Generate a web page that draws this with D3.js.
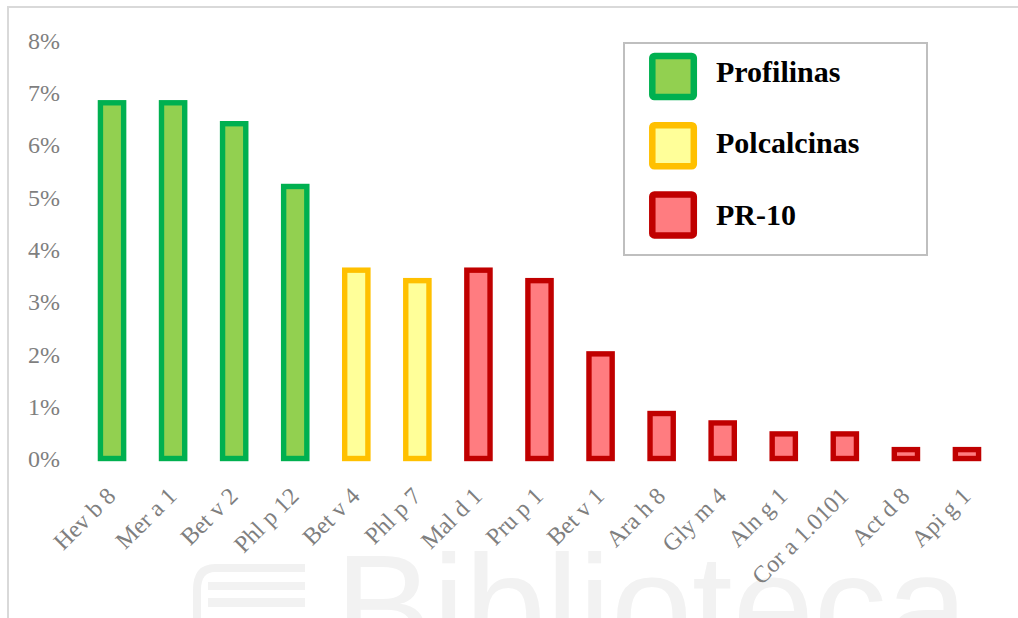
<!DOCTYPE html>
<html>
<head>
<meta charset="utf-8">
<script src="https://cdn.jsdelivr.net/npm/d3@7/dist/d3.min.js"></script>
<style>
  html, body { margin: 0; padding: 0; background: #fff; }
  svg { display: block; }
</style>
</head>
<body>
<svg id="chart" width="1018" height="618"></svg>
<script>
// Allergen components and their share of sensitised patients
const allergens = ["Hev b 8", "Mer a 1", "Bet v 2", "Phl p 12", "Bet v 4", "Phl p 7", "Mal d 1",
  "Pru p 1", "Bet v 1", "Ara h 8", "Gly m 4", "Aln g 1", "Cor a 1.0101", "Act d 8", "Api g 1"];
const shares = [0.068, 0.068, 0.064, 0.052, 0.036, 0.034, 0.036, 0.034, 0.020, 0.0086, 0.0068, 0.0047, 0.0047, 0.0017, 0.0017];
const families = ["Profilinas", "Profilinas", "Profilinas", "Profilinas", "Polcalcinas", "Polcalcinas",
  "PR-10", "PR-10", "PR-10", "PR-10", "PR-10", "PR-10", "PR-10", "PR-10", "PR-10"];

// Protein families shown in the legend
const familyNames = ["Profilinas", "Polcalcinas", "PR-10"];
const familyFill = ["#92D050", "#FFFF99", "#FF7C80"];
const familyStroke = ["#00B050", "#FFC000", "#C00000"];

const yTicks = [0, 0.01, 0.02, 0.03, 0.04, 0.05, 0.06, 0.07, 0.08];

const svg = d3.select("#chart");
const serif = "'Liberation Serif', 'Times New Roman', serif";

// Faint library watermark behind the chart
const wm = svg.append("g").attr("fill", "#f2f2f2");
wm.append("path")
  .attr("d", "M305,568 L215,568 Q197,568 197,590 L197,640")
  .attr("fill", "none").attr("stroke", "#f1f1f1").attr("stroke-width", 8);
wm.append("rect").attr("x", 208).attr("y", 582).attr("width", 97).attr("height", 8);
wm.append("rect").attr("x", 208).attr("y", 598).attr("width", 97).attr("height", 9);
wm.append("text")
  .attr("x", 335).attr("y", 657)
  .attr("font-family", "'Liberation Sans', Arial, sans-serif")
  .attr("font-size", 146)
  .text("Biblioteca");

// Chart frame
svg.append("path")
  .attr("d", "M8,618 L8,7 L1018,7")
  .attr("fill", "none").attr("stroke", "#d9d9d9").attr("stroke-width", 2);

const x = d3.scaleBand()
  .domain(allergens)
  .range([81.5, 997.5])
  .paddingInner(0.62)
  .paddingOuter(0.31);

const y = d3.scaleLinear().domain([0, 0.08]).range([458.5, 40]);

const colorFill = d3.scaleOrdinal().domain(familyNames).range(familyFill);
const colorStroke = d3.scaleOrdinal().domain(familyNames).range(familyStroke);

// Y axis labels (no axis line or gridlines)
const yAxis = d3.axisLeft(y).tickValues(yTicks).tickFormat(d3.format(".0%")).tickSize(0).tickPadding(0);
const yg = svg.append("g").attr("transform", "translate(60,0)").call(yAxis);
yg.select(".domain").remove();
yg.selectAll("text")
  .attr("font-family", serif).attr("font-size", 24).attr("fill", "#7f7f7f")
  .attr("dy", "0.34em");

// Bars
const data = allergens.map((a, i) => ({ name: a, value: shares[i], family: families[i] }));
svg.append("g").selectAll("rect")
  .data(data)
  .join("rect")
  .attr("x", d => x(d.name))
  .attr("width", x.bandwidth())
  .attr("y", d => y(d.value))
  .attr("height", d => y(0) - y(d.value))
  .attr("fill", d => colorFill(d.family))
  .attr("stroke", d => colorStroke(d.family))
  .attr("stroke-width", 5.4);

// Category labels, rotated
const xAxis = d3.axisBottom(x).tickSize(0).tickPadding(0);
const xg = svg.append("g").attr("transform", `translate(0,${y(0)})`).call(xAxis);
xg.select(".domain").remove();
xg.selectAll("text")
  .attr("font-family", serif).attr("font-size", 24).attr("fill", "#7f7f7f")
  .attr("text-anchor", "end")
  .attr("dy", null)
  .attr("y", 0)
  .attr("transform", "translate(5,39) rotate(-45)");

// Legend
const legend = svg.append("g");
legend.append("rect")
  .attr("x", 624).attr("y", 43).attr("width", 303).attr("height", 212)
  .attr("fill", "#fff").attr("stroke", "#bfbfbf").attr("stroke-width", 2);
const rows = legend.selectAll("g.row")
  .data(familyNames)
  .join("g").attr("class", "row");
rows.append("rect")
  .attr("x", 652.3).attr("width", 41.5)
  .attr("y", (d, i) => 56 + i * 69.2).attr("height", 41)
  .attr("rx", 2)
  .attr("fill", d => colorFill(d))
  .attr("stroke", d => colorStroke(d))
  .attr("stroke-width", 6.5);
rows.append("text")
  .attr("x", 716)
  .attr("y", (d, i) => 81.7 + i * 71.6)
  .attr("font-family", serif).attr("font-size", 30).attr("font-weight", "bold")
  .attr("fill", "#000")
  .text(d => d);
</script>
</body>
</html>
